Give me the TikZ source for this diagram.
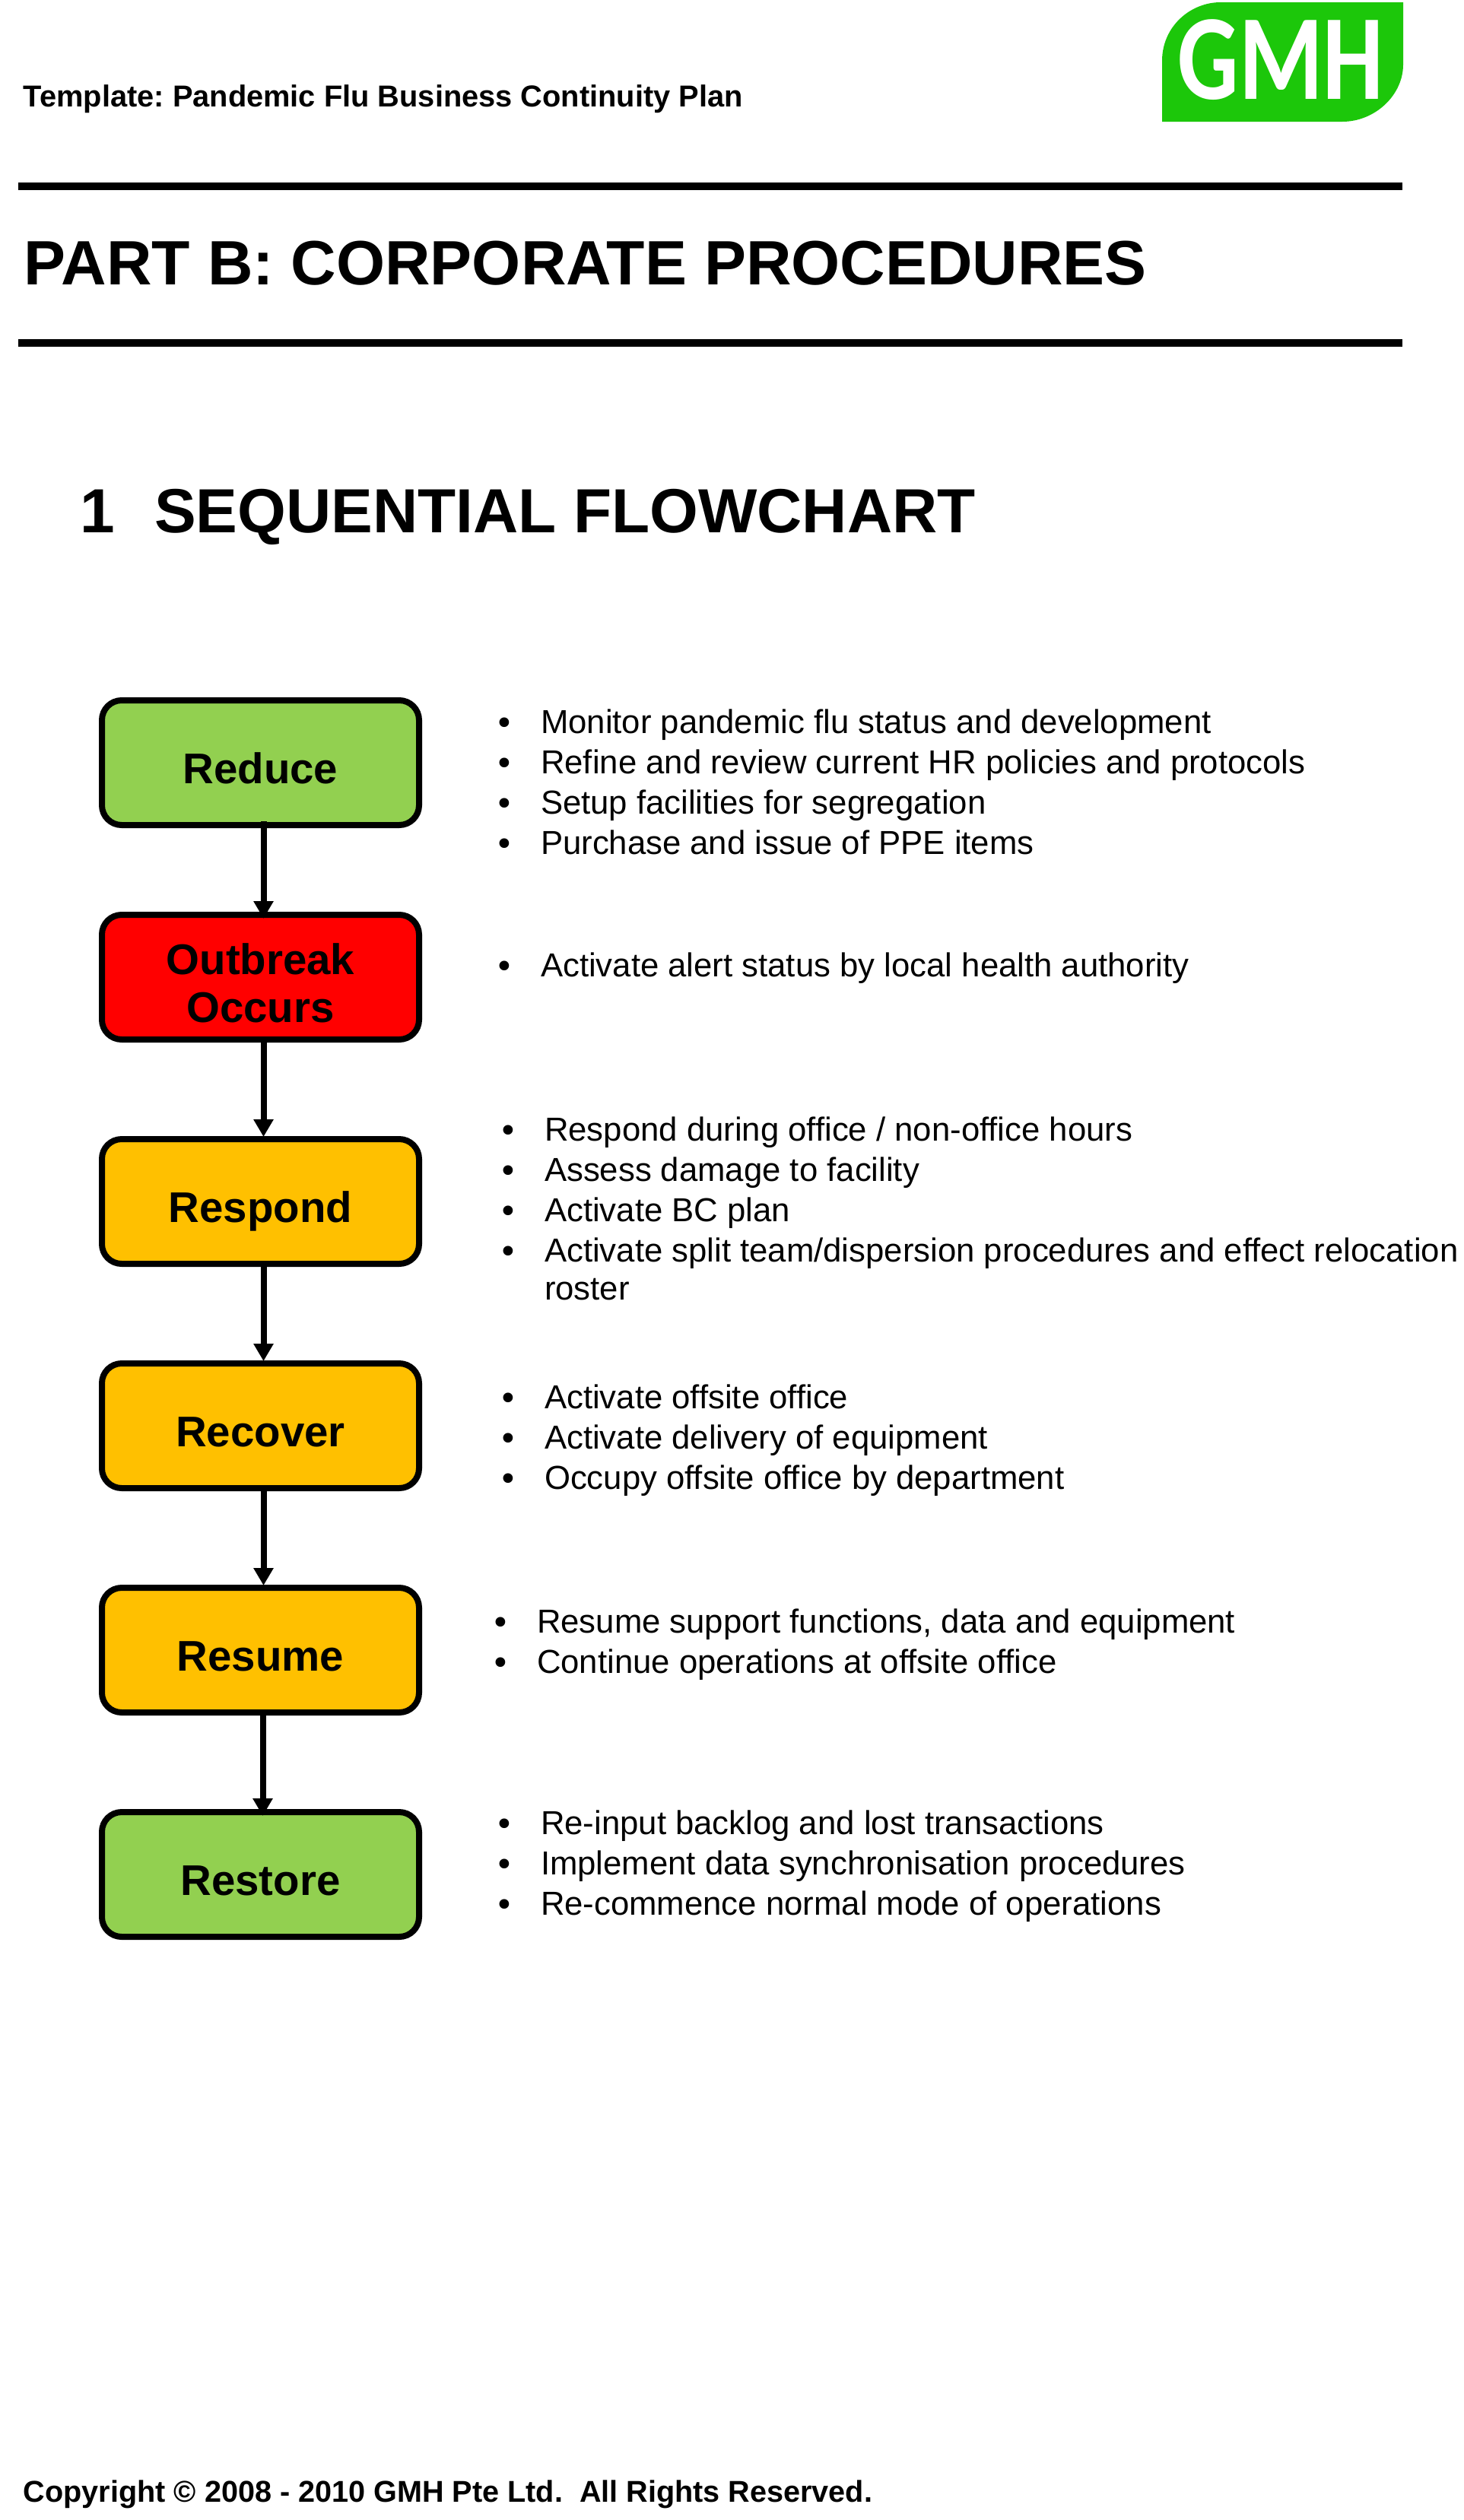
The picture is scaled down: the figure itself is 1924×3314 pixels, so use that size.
\documentclass[tikz,border=0pt]{standalone}
\usepackage{fontspec}
\usepackage{graphicx}
\setmainfont{Liberation Sans}
\newfontfamily\logofont{Carlito}
\newfontfamily\bulfont{DejaVu Sans}
\usetikzlibrary{arrows.meta}
\frenchspacing
\definecolor{lgreen}{HTML}{92D050}
\definecolor{lamber}{HTML}{FFC000}
\definecolor{lred}{HTML}{FF0000}
\definecolor{logogreen}{HTML}{1CC70A}
\tikzset{
 x=0.5pt,y=-0.5pt,
 stage/.style={draw=black,line width=4pt,rounded corners=13pt,minimum width=208.5pt,minimum height=82pt,inner sep=0pt,align=center,font=\fontsize{28.2}{31.5}\selectfont\bfseries},
 oneline/.style={text height=27.5pt,text depth=0pt},
 conn/.style={line width=4pt,-{Triangle[width=12.5pt,length=11.5pt]},shorten >=-0.5pt},
 rulebar/.style={line width=5pt},
 plain/.style={anchor=base west,inner sep=0pt,outer sep=0pt},
 item/.style={plain,font=\fontsize{21.85}{26}\selectfont},
}
\newcommand{\bul}{\makebox[29pt][l]{\hspace{-1.5pt}\bulfont\raisebox{-1pt}{•}}}
\begin{document}
\begin{tikzpicture}
\useasboundingbox (0,0) rectangle (1924,3314);
\fill[white] (0,0) rectangle (1924,3314);
% logo
\fill[logogreen] (1528,160) -- (1528,80) .. controls (1528,35) and (1565,3) .. (1605,3) -- (1845,3) -- (1845,85) .. controls (1845,125) and (1808,160) .. (1765,160) -- cycle;
\node[anchor=base,inner sep=0pt,text=white,font=\logofont\bfseries\fontsize{80}{80}\selectfont] (logo) at (1684,130) {\scalebox{0.79}[1]{GMH}};
\node[plain,font=\fontsize{19.9}{24}\selectfont\bfseries] (tpl) at (31,140) {Template: Pandemic Flu Business Continuity Plan};
\coordinate (r1a) at (24,245); \coordinate (r1b) at (1844,245);
\coordinate (r2a) at (24,450.5); \coordinate (r2b) at (1844,450.5);
\draw[rulebar] (r1a) -- (r1b);
\draw[rulebar] (r2a) -- (r2b);
\node[plain,font=\fontsize{41.2}{46}\selectfont\bfseries] (part) at (32,374) {PART B: CORPORATE PROCEDURES};
\node[plain,font=\fontsize{41}{46}\selectfont\bfseries] (num) at (105,700) {1};
\node[plain,font=\fontsize{41}{46}\selectfont\bfseries] (sec) at (203,700) {SEQUENTIAL FLOWCHART};
% stages
\node[stage,oneline,fill=lgreen] (s1) at (342.5,1003) {Reduce};
\node[stage,fill=lred] (s2) at (342.5,1285) {\rule{0pt}{28pt}Outbreak\\Occurs};
\node[stage,oneline,fill=lamber] (s3) at (342.5,1580) {Respond};
\node[stage,oneline,fill=lamber] (s4) at (342.5,1875) {Recover};
\node[stage,oneline,fill=lamber] (s5) at (342.5,2170) {Resume};
\node[stage,oneline,fill=lgreen] (s6) at (342.5,2465) {Restore};
\draw[conn,shorten <=-4.5pt,shorten >=-4.5pt] ([xshift=2pt]s1.south) -- ([xshift=2pt]s2.north);
\draw[conn] ([xshift=2pt]s2.south) -- ([xshift=2pt]s3.north);
\draw[conn] ([xshift=2pt]s3.south) -- ([xshift=2pt]s4.north);
\draw[conn] ([xshift=2pt]s4.south) -- ([xshift=2pt]s5.north);
\draw[conn,shorten >=-4.5pt] ([xshift=1.5pt]s5.south) -- ([xshift=1.5pt]s6.north);
% lists
\newcommand{\li}[4]{\node[item] (t#1) at (#2-58,#3) {\bul #4};}
\li{a}{711}{964}{Monitor pandemic flu status and development}
\li{b}{711}{1017}{Refine and review current HR policies and protocols}
\li{c}{711}{1070}{Setup facilities for segregation}
\li{d}{711}{1123}{Purchase and issue of PPE items}
\li{e}{711}{1284}{Activate alert status by local health authority}
\li{f}{716}{1500}{Respond during office / non-office hours}
\li{g}{716}{1553}{Assess damage to facility}
\li{h}{716}{1606}{Activate BC plan}
\li{i}{716}{1659}{Activate split team/dispersion procedures and effect relocation}
\node[item] (tj) at (716,1709) {roster};
\li{k}{716}{1852}{Activate offsite office}
\li{l}{716}{1905}{Activate delivery of equipment}
\li{m}{716}{1958}{Occupy offsite office by department}
\li{n}{706}{2147}{Resume support functions, data and equipment}
\li{o}{706}{2200}{Continue operations at offsite office}
\li{p}{711}{2412}{Re-input backlog and lost transactions}
\li{q}{711}{2465}{Implement data synchronisation procedures}
\li{r}{711}{2518}{Re-commence normal mode of operations}
\node[plain,font=\fontsize{19.8}{24}\selectfont\bfseries] (copy) at (31,3290) {Copyright © 2008 - 2010 GMH Pte Ltd.~~All Rights Reserved.};
\end{tikzpicture}
\end{document}
